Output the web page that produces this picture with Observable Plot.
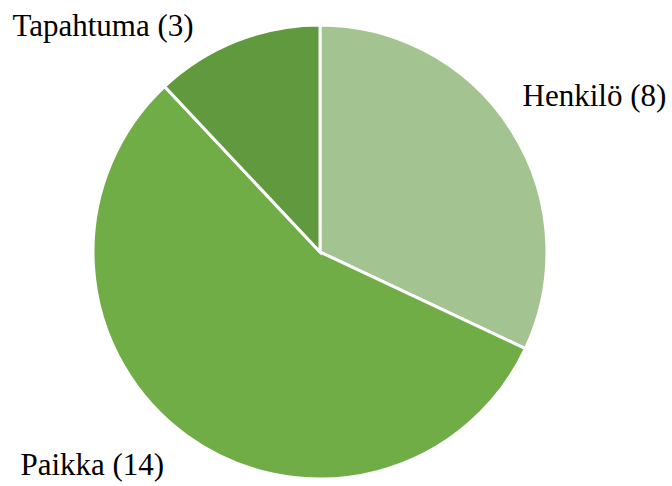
<!DOCTYPE html>
<html>
<head>
<meta charset="utf-8">
<script src="https://cdn.jsdelivr.net/npm/d3@7"></script>
<script src="https://cdn.jsdelivr.net/npm/@observablehq/plot@0.6"></script>
<style>
  html, body { margin: 0; padding: 0; background: #fff; }
  svg text { font-family: "Liberation Serif", "Times New Roman", serif !important; }
</style>
</head>
<body>
<div id="chart"></div>
<script>
const categories = ["Henkilö", "Paikka", "Tapahtuma"];
const counts = [8, 14, 3];
const colors = ["#a3c490", "#70ad47", "#619a3e"];

// label anchor positions in unit-radius coordinates (layout only)
const labelPos = {
  "Henkilö": [0.89, 0.645],
  "Paikka": [-1.322, -0.982],
  "Tapahtuma": [-1.357, 0.952]
};

const data = categories.map((c, i) => ({category: c, count: counts[i], color: colors[i]}));
const arcs = d3.pie().sort(null).value(d => d.count).startAngle(0).endAngle(2 * Math.PI)(data);

const pieMark = (index, scales, values, dimensions) => {
  const cx = scales.x(0), cy = scales.y(0);
  const r = scales.x(1) - scales.x(0);
  const arcGen = d3.arc().innerRadius(0).outerRadius(r);
  const g = d3.create("svg:g").attr("transform", `translate(${cx},${cy})`);
  g.selectAll("path")
    .data(arcs)
    .join("path")
    .attr("d", arcGen)
    .attr("fill", d => d.data.color)
    .attr("stroke", "#fff")
    .attr("stroke-width", 3)
    .attr("stroke-linejoin", "miter");
  return g.node();
};

const labels = data.map(d => ({
  text: `${d.category} (${d.count})`,
  x: labelPos[d.category][0],
  y: labelPos[d.category][1]
}));

const chart = Plot.plot({
  width: 672,
  height: 486,
  margin: 0,
  x: {domain: [-1, 1], range: [93, 547], axis: null},
  y: {domain: [-1, 1], range: [479, 25], axis: null},
  style: {background: "#fff"},
  marks: [
    pieMark,
    Plot.text(labels, {
      x: "x", y: "y", text: "text",
      textAnchor: "start", lineAnchor: "bottom",
      fontSize: 31, fill: "#000", fontFamily: "Liberation Serif"
    })
  ]
});
document.getElementById("chart").appendChild(chart);
</script>
</body>
</html>
